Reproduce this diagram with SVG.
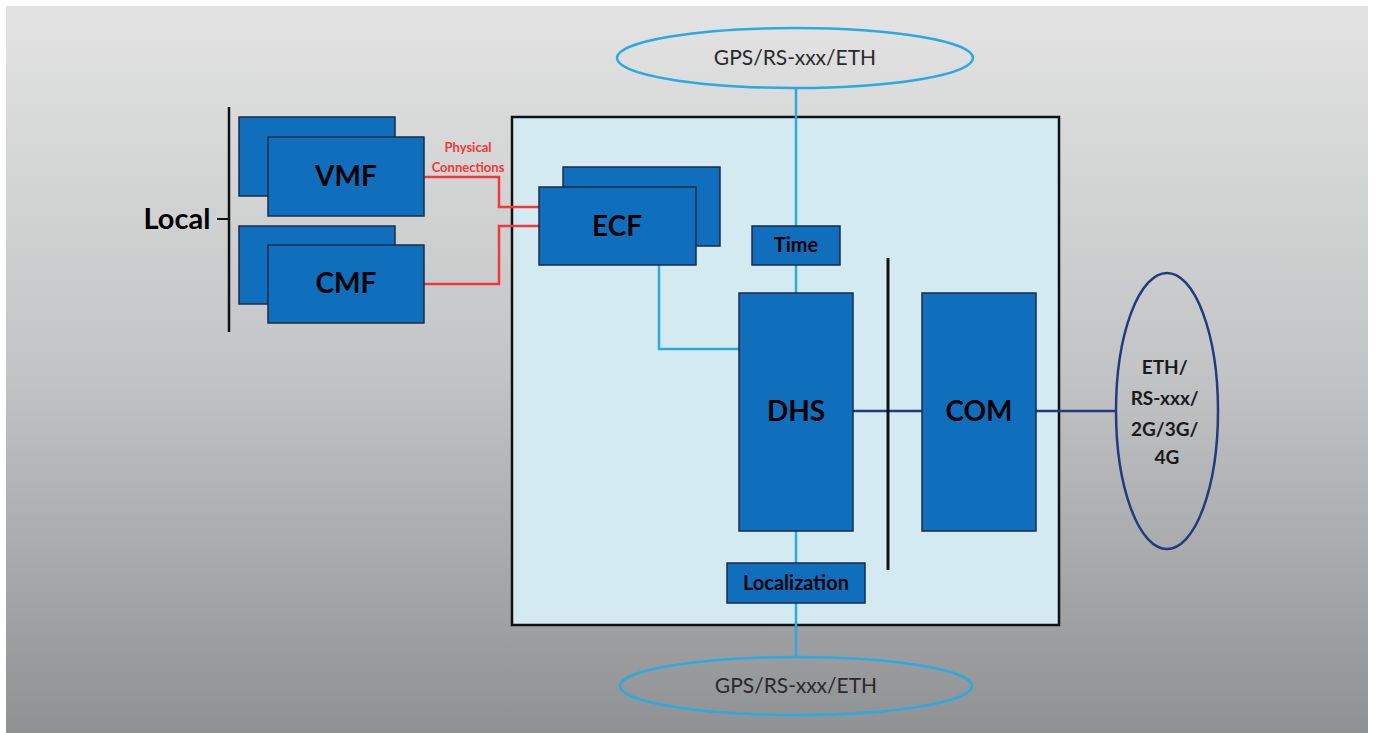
<svg xmlns="http://www.w3.org/2000/svg" width="1375" height="733" viewBox="0 0 1375 733">
<defs>
<linearGradient id="bg" x1="0" y1="0" x2="0" y2="1">
<stop offset="0" stop-color="#e2e3e2"/>
<stop offset="0.5" stop-color="#c3c4c5"/>
<stop offset="1" stop-color="#8f9193"/>
</linearGradient>
<style>
.blk{fill:#0f6fbd;stroke:#1b2d45;stroke-width:1.5}
.lbl{font-family:Lato,"Open Sans",sans-serif;font-weight:bold;fill:#000;text-anchor:middle}
.big{font-size:28px}
.mid{font-size:20px}
.cyan{fill:none;stroke:#2aaae2;stroke-width:2.5}
.navy{fill:none;stroke:#233a80;stroke-width:2.5}
.red{fill:none;stroke:#f2383a;stroke-width:2.5}
.thin{font-family:Lato,"Open Sans",sans-serif;font-size:21px;fill:#2a2a2a;text-anchor:middle}
</style>
</defs>
<rect width="1375" height="733" fill="#ffffff"/>
<rect x="6" y="6" width="1362" height="727" fill="url(#bg)"/>

<g id="main-box">
<rect x="512" y="117" width="547" height="508" fill="#d3eaf0" stroke="#111" stroke-width="2.5"/>
</g>

<g id="connectors">
<line class="cyan" x1="796" y1="88" x2="796" y2="226"/>
<line class="cyan" x1="796" y1="265" x2="796" y2="293"/>
<line class="cyan" x1="796" y1="531" x2="796" y2="563"/>
<line class="cyan" x1="796" y1="603" x2="796" y2="657"/>
<polyline class="cyan" points="659,265 659,349 739,349"/>
<line class="navy" x1="853" y1="411" x2="922" y2="411"/>
<line class="navy" x1="1036" y1="411" x2="1116" y2="411"/>
<polyline class="red" points="424,177 499,177 499,207 539,207"/>
<polyline class="red" points="424,284 499,284 499,226 539,226"/>
<line x1="888" y1="258" x2="888" y2="570" stroke="#111" stroke-width="3"/>
<line x1="229" y1="107" x2="229" y2="332" stroke="#111" stroke-width="2.5"/>
<line x1="217" y1="219" x2="229" y2="219" stroke="#111" stroke-width="2"/>
</g>

<g id="gps-top">
<ellipse cx="795" cy="58" rx="178" ry="30" class="cyan" stroke-width="3"/>
<text x="795" y="65" class="thin">GPS/RS-xxx/ETH</text>
</g>
<g id="gps-bottom">
<ellipse cx="796" cy="686" rx="176" ry="29" class="cyan" stroke-width="3"/>
<text x="796" y="693" class="thin">GPS/RS-xxx/ETH</text>
</g>

<g id="local">
<text x="177" y="229" class="lbl" font-size="29">Local</text>
</g>

<g id="vmf">
<rect class="blk" x="239" y="117" width="156" height="79"/>
<rect class="blk" x="268" y="137" width="156" height="79"/>
<text x="346" y="186" class="lbl big">VMF</text>
</g>
<g id="cmf">
<rect class="blk" x="239" y="226" width="156" height="78"/>
<rect class="blk" x="268" y="245" width="156" height="78"/>
<text x="346" y="293" class="lbl big">CMF</text>
</g>

<g id="physical-label">
<text x="468" y="152" class="lbl" font-size="13" style="fill:#f2383a">Physical</text>
<text x="468" y="172" class="lbl" font-size="13" style="fill:#f2383a">Connections</text>
</g>

<g id="ecf">
<rect class="blk" x="563" y="167" width="157" height="79"/>
<rect class="blk" x="539" y="187" width="157" height="78"/>
<text x="617" y="236" class="lbl big">ECF</text>
</g>

<g id="time">
<rect class="blk" x="752" y="226" width="88" height="39"/>
<text x="796" y="252" class="lbl mid">Time</text>
</g>

<g id="dhs">
<rect class="blk" x="739" y="293" width="114" height="238"/>
<text x="796" y="421" class="lbl big">DHS</text>
</g>

<g id="com">
<rect class="blk" x="922" y="293" width="114" height="238"/>
<text x="979" y="421" class="lbl big">COM</text>
</g>

<g id="localization">
<rect class="blk" x="727" y="563" width="138" height="40"/>
<text x="796" y="590" class="lbl mid">Localization</text>
</g>

<g id="eth-ellipse">
<ellipse cx="1167" cy="411" rx="51" ry="138" class="navy" stroke-width="2"/>
<text class="lbl" font-size="19" style="fill:#1a1a1a">
<tspan x="1167" y="374">ETH/</tspan>
<tspan x="1167" y="405">RS-xxx/</tspan>
<tspan x="1167" y="436">2G/3G/</tspan>
<tspan x="1167" y="464">4G</tspan>
</text>
</g>
</svg>
